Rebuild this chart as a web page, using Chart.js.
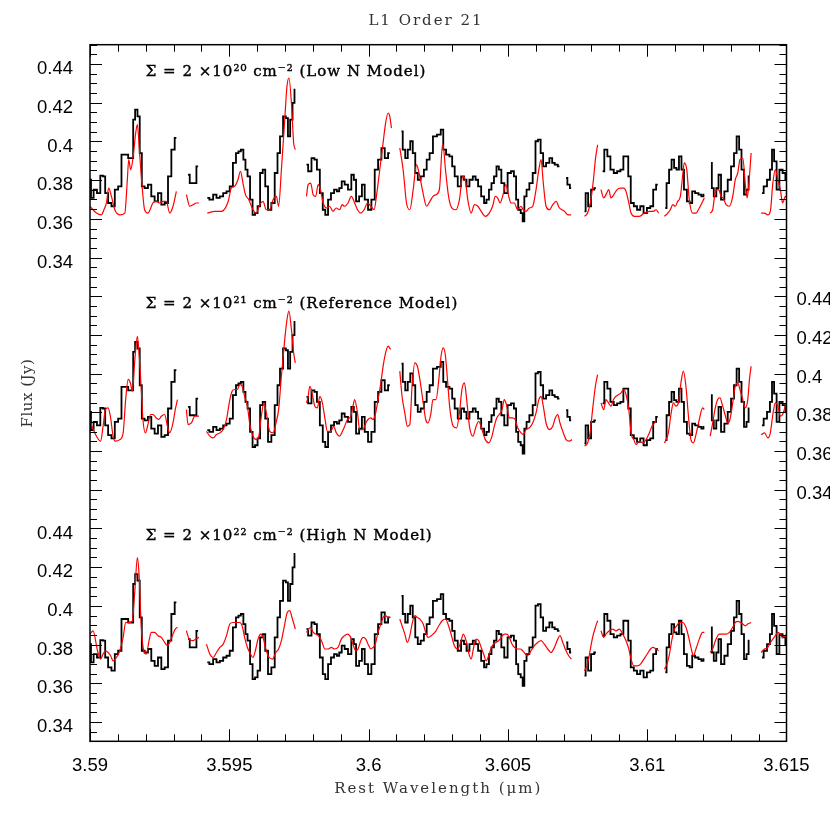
<!DOCTYPE html>
<html>
<head>
<meta charset="utf-8">
<script src="https://cdn.jsdelivr.net/npm/chart.js@4.4.0/dist/chart.umd.min.js"></script>
<style>
  html, body { margin: 0; padding: 0; background: #fff; }
  #spec { display: block; }
</style>
</head>
<body>
<canvas id="spec" width="830" height="830"></canvas>
<script>
// Observed spectrum (same in all three panels), null = gap between orders
const obsWave = [
  3.59000, 3.59007, 3.59019, 3.59031, 3.59043, 3.59050, 3.59059, 3.59071, 3.59083, 3.59095, 3.59107, 3.59119, 3.59131, 3.59143, 3.59152, 3.59158, 3.59166, 3.59175, 3.59182, 3.59190, 3.59202, 3.59214, 3.59226, 3.59238, 3.59250, 3.59262, 3.59274, 3.59286, 3.59298, 3.59310,
  3.5933,
  3.59352, 3.59364, 3.59376, 3.59388,
  3.5940,
  3.59421, 3.59436, 3.59448, 3.59460, 3.59472, 3.59484, 3.59496, 3.59507, 3.59519, 3.59529, 3.59537, 3.59546, 3.59555, 3.59561, 3.59570, 3.59579, 3.59588, 3.59597, 3.59606, 3.59615, 3.59625, 3.59633, 3.59645, 3.59657, 3.59669, 3.59677, 3.59687, 3.59699, 3.59707, 3.59714, 3.59723, 3.59731, 3.59737,
  3.5976,
  3.59777, 3.59789, 3.59801, 3.59810, 3.59819, 3.59831, 3.59840, 3.59849, 3.59860, 3.59870, 3.59882, 3.59890, 3.59899, 3.59908, 3.59920, 3.59932, 3.59944, 3.59950, 3.59960, 3.59972, 3.59980, 3.59992, 3.60004, 3.60016, 3.60028, 3.60040, 3.60052, 3.60064, 3.60076,
  3.6010,
  3.60118, 3.60127, 3.60136, 3.60145, 3.60154, 3.60163, 3.60172, 3.60181, 3.60193, 3.60204, 3.60213, 3.60225, 3.60237, 3.60254, 3.60264, 3.60272, 3.60284, 3.60296, 3.60304, 3.60314, 3.60326, 3.60338, 3.60347, 3.60356, 3.60368, 3.60380, 3.60388, 3.60398, 3.60410, 3.60419, 3.60427, 3.60437, 3.60445, 3.60455, 3.60463, 3.60472, 3.60481, 3.60493, 3.60505, 3.60517, 3.60526, 3.60533, 3.60541, 3.60551, 3.60555, 3.60563, 3.60571, 3.60583, 3.60595, 3.60603, 3.60613, 3.60622, 3.60631, 3.60643, 3.60655, 3.60663, 3.60673, 3.60685,
  3.6070,
  3.60709, 3.60718, 3.60727,
  3.6075,
  3.60775, 3.60783, 3.60793, 3.60804, 3.60816,
  3.6083,
  3.60840, 3.60852, 3.60862, 3.60874, 3.60886, 3.60898, 3.60910, 3.60919, 3.60928, 3.60936, 3.60946, 3.60958, 3.60969, 3.60981, 3.60993, 3.61005, 3.61017, 3.61026, 3.61038,
  3.6105,
  3.61065, 3.61074, 3.61083, 3.61092, 3.61101, 3.61109, 3.61119, 3.61127, 3.61137, 3.61148, 3.61157, 3.61166, 3.61178, 3.61190, 3.61199, 3.61205,
  3.6122,
  3.61229, 3.61235, 3.61243, 3.61253, 3.61259, 3.61271, 3.61283, 3.61295, 3.61307, 3.61316, 3.61326, 3.61334, 3.61343, 3.61352, 3.61361, 3.61367,
  3.6139,
  3.61412, 3.61424, 3.61436, 3.61445, 3.61451, 3.61460, 3.61469, 3.61480, 3.61492, 3.61500
];
const obsFlux = [
  .3802, .3708, .3751, .3733, .3823, .3820, .3733, .3682, .3665, .3751, .3768, .3932, .3932, .3914, .3914, .4113, .4164, .4130, .3940, .3768, .3759, .3777, .3716, .3690, .3733, .3673, .3682, .3820, .3958, .4018,
  null,
  .3828, .3785, .3785, .3871,
  null,
  .3708, .3699, .3725, .3708, .3716, .3733, .3742, .3768, .3889, .3940, .3949, .3958, .3906, .3854, .3820, .3699, .3621, .3630, .3665, .3837, .3854, .3768, .3647, .3682, .3837, .3940, .4026, .4130, .4121, .4026, .4113, .4199, .4268,
  null,
  .3880, .3846, .3914, .3906, .3854, .3733, .3647, .3621, .3699, .3733, .3751, .3742, .3759, .3794, .3777, .3751, .3828, .3802, .3690, .3716, .3777, .3699, .3647, .3699, .3854, .3906, .3966, .3914, .3940,
  null,
  .4052, .3958, .3914, .3958, .4001, .3940, .3837, .3802, .3820, .3854, .3906, .3940, .4026, .4035, .4061, .3958, .3932, .3923, .3871, .3820, .3768, .3820, .3802, .3768, .3802, .3820, .3802, .3768, .3716, .3682, .3699, .3751, .3785, .3820, .3871, .3854, .3785, .3733, .3837, .3846, .3820, .3699, .3647, .3630, .3587, .3716, .3751, .3785, .3837, .4001, .4009, .3940, .3871, .3889, .3914, .3889, .3880, .3871,
  null,
  .3811, .3777, .3759,
  null,
  .3639, .3733, .3665, .3751, .3759,
  null,
  .3846, .3958, .3923, .3854, .3837, .3846, .3854, .3923, .3923, .3820, .3682, .3665, .3647, .3665, .3630, .3656, .3665, .3751, .3777,
  null,
  .3656, .3785, .3854, .3906, .3863, .3854, .3923, .3854, .3751, .3690, .3682, .3742, .3733, .3725, .3716, .3725,
  null,
  .3889, .3759, .3716, .3759, .3828, .3699, .3742, .3802, .3871, .3940, .4026, .3958, .3854, .3725, .3751, .3820,
  null,
  .3733, .3768, .3802, .3854, .3958, .3897, .3751, .3854, .3837, .3802
];

// Low N model (top panel)
const lowWave = [
  3.59000, 3.59005, 3.59023, 3.59041, 3.59050, 3.59059, 3.59067, 3.59077, 3.59089, 3.59107, 3.59125, 3.59134, 3.59139, 3.59146, 3.59155, 3.59164, 3.59170, 3.59178, 3.59187, 3.59196, 3.59208, 3.59226, 3.59238, 3.59250, 3.59262, 3.59274, 3.59286, 3.59298, 3.59310,
  3.5933,
  3.59346, 3.59358, 3.59370, 3.59382, 3.59391,
  3.5940,
  3.59421, 3.59448, 3.59472, 3.59496, 3.59507, 3.59519, 3.59531, 3.59540, 3.59549, 3.59558, 3.59570, 3.59585, 3.59597, 3.59609, 3.59621, 3.59633, 3.59645, 3.59657, 3.59669, 3.59677, 3.59687, 3.59699, 3.59707, 3.59714, 3.59723, 3.59731, 3.59737,
  3.5976,
  3.59777, 3.59783, 3.59792, 3.59801, 3.59810, 3.59819, 3.59827, 3.59837, 3.59849, 3.59860, 3.59872, 3.59884, 3.59896, 3.59905, 3.59914, 3.59926, 3.59938, 3.59950, 3.59960, 3.59972, 3.59984, 3.59996, 3.60008, 3.60020, 3.60028, 3.60040, 3.60052, 3.60061, 3.60070, 3.60076, 3.60082,
  3.6010,
  3.60112, 3.60124, 3.60136, 3.60148, 3.60160, 3.60172, 3.60181, 3.60193, 3.60208, 3.60220, 3.60231, 3.60242, 3.60254, 3.60266, 3.60276, 3.60287, 3.60299, 3.60314, 3.60326, 3.60338, 3.60347, 3.60356, 3.60368, 3.60380, 3.60392, 3.60404, 3.60419, 3.60433, 3.60445, 3.60455, 3.60463, 3.60472, 3.60481, 3.60493, 3.60503, 3.60511, 3.60523, 3.60535, 3.60547, 3.60555, 3.60565, 3.60577, 3.60589, 3.60601, 3.60611, 3.60619, 3.60627, 3.60637, 3.60649, 3.60661, 3.60673, 3.60685, 3.60694, 3.60703, 3.60715, 3.60727,
  3.6075,
  3.60775, 3.60786, 3.60798, 3.60807, 3.60814, 3.60822,
  3.6083,
  3.60834, 3.60844, 3.60852, 3.60862, 3.60870, 3.60880, 3.60892, 3.60904, 3.60916, 3.60924, 3.60934, 3.60942, 3.60954, 3.60972, 3.60990, 3.61008, 3.61022, 3.61032, 3.61041,
  3.6105,
  3.61062, 3.61074, 3.61083, 3.61092, 3.61101, 3.61109, 3.61119, 3.61127, 3.61133, 3.61142, 3.61151, 3.61163, 3.61175, 3.61187, 3.61199, 3.61205,
  3.6121,
  3.61226, 3.61235, 3.61245, 3.61257, 3.61265, 3.61273, 3.61283, 3.61295, 3.61307, 3.61316, 3.61325, 3.61333, 3.61343, 3.61353, 3.61359, 3.61367, 3.61373,
  3.6139,
  3.61409, 3.61421, 3.61433, 3.61442, 3.61451, 3.61460, 3.61469, 3.61478, 3.61486, 3.61496, 3.61500
];
const lowFlux = [
  .3665, .3656, .3630, .3621, .3647, .3682, .3759, .3716, .3647, .3621, .3630, .3802, .3906, .3854, .3923, .4044, .4087, .3940, .3768, .3647, .3630, .3682, .3690, .3682, .3690, .3690, .3630, .3665, .3742,
  null,
  .3725, .3665, .3673, .3682, .3682,
  null,
  .3630, .3639, .3639, .3690, .3759, .3768, .3802, .3846, .3785, .3725, .3699, .3647, .3630, .3673, .3690, .3647, .3647, .3699, .3716, .3665, .3854, .4113, .4285, .4328, .4199, .3992, .3958,
  null,
  .3716, .3777, .3785, .3725, .3716, .3777, .3751, .3682, .3656, .3665, .3639, .3656, .3647, .3673, .3665, .3682, .3716, .3682, .3647, .3630, .3647, .3682, .3665, .3647, .3716, .3854, .3992, .4095, .4147, .4130, .4069,
  null,
  .3966, .3854, .3682, .3647, .3751, .3880, .3837, .3751, .3665, .3690, .3716, .3725, .3751, .3992, .3854, .3716, .3656, .3647, .3699, .3820, .3802, .3699, .3630, .3673, .3665, .3639, .3613, .3630, .3665, .3716, .3708, .3682, .3716, .3777, .3716, .3682, .3682, .3647, .3665, .3647, .3639, .3656, .3665, .3751, .3854, .3906, .3785, .3665, .3647, .3673, .3690, .3656, .3647, .3639, .3621, .3621,
  null,
  .3613, .3630, .3699, .3802, .3906, .3983,
  null,
  .3751, .3708, .3725, .3751, .3708, .3725, .3751, .3759, .3759, .3742, .3682, .3630, .3613, .3613, .3630, .3639, .3639, .3647, .3630,
  null,
  .3613, .3630, .3647, .3673, .3665, .3690, .3716, .3820, .3889, .3854, .3699, .3630, .3630, .3656, .3690, .3708,
  null,
  .3630, .3647, .3742, .3751, .3716, .3708, .3673, .3665, .3716, .3802, .3837, .3906, .3914, .3768, .3708, .3820, .3940,
  null,
  .3630, .3630, .3621, .3639, .3785, .3854, .3802, .3751, .3682, .3716, .3708
];

// Reference model (middle panel)
const refWave = [
  3.59000, 3.59017, 3.59038, 3.59047, 3.59055, 3.59065, 3.59073, 3.59083, 3.59091, 3.59107, 3.59119, 3.59128, 3.59137, 3.59145, 3.59152, 3.59161, 3.59170, 3.59176, 3.59184, 3.59190, 3.59199, 3.59208, 3.59218, 3.59226, 3.59238, 3.59247, 3.59256, 3.59268, 3.59278, 3.59286, 3.59298, 3.59306, 3.59314,
  3.5933,
  3.59346, 3.59352, 3.59364, 3.59376, 3.59391,
  3.5940,
  3.59418, 3.59430, 3.59442, 3.59454, 3.59466, 3.59478, 3.59490, 3.59502, 3.59510, 3.59519, 3.59529, 3.59537, 3.59546, 3.59555, 3.59565, 3.59573, 3.59585, 3.59597, 3.59606, 3.59615, 3.59624, 3.59633, 3.59645, 3.59657, 3.59669, 3.59677, 3.59687, 3.59699, 3.59707, 3.59714, 3.59723, 3.59731, 3.59737,
  3.5976,
  3.59777, 3.59783, 3.59789, 3.59797, 3.59807, 3.59816, 3.59825, 3.59834, 3.59843, 3.59852, 3.59864, 3.59875, 3.59884, 3.59896, 3.59906, 3.59914, 3.59924, 3.59936, 3.59944, 3.59950, 3.59960, 3.59968, 3.59980, 3.59990, 3.59998, 3.60008, 3.60016, 3.60024, 3.60034, 3.60044, 3.60052, 3.60061, 3.60070, 3.60079,
  3.6010,
  3.60112, 3.60120, 3.60130, 3.60139, 3.60148, 3.60156, 3.60166, 3.60175, 3.60184, 3.60196, 3.60205, 3.60213, 3.60223, 3.60231, 3.60242, 3.60252, 3.60260, 3.60268, 3.60276, 3.60284, 3.60292, 3.60304, 3.60316, 3.60326, 3.60335, 3.60344, 3.60352, 3.60362, 3.60374, 3.60386, 3.60395, 3.60407, 3.60419, 3.60431, 3.60443, 3.60451, 3.60460, 3.60469, 3.60479, 3.60487, 3.60496, 3.60505, 3.60515, 3.60526, 3.60535, 3.60547, 3.60555, 3.60565, 3.60577, 3.60589, 3.60601, 3.60611, 3.60619, 3.60627, 3.60637, 3.60649, 3.60661, 3.60670, 3.60679, 3.60687, 3.60697, 3.60709, 3.60721, 3.60730,
  3.6075,
  3.60775, 3.60786, 3.60795, 3.60804, 3.60814, 3.60822,
  3.6083,
  3.60834, 3.60844, 3.60852, 3.60861, 3.60870, 3.60879, 3.60888, 3.60898, 3.60906, 3.60916, 3.60924, 3.60934, 3.60942, 3.60952, 3.60960, 3.60972, 3.60984, 3.60996, 3.61008, 3.61017, 3.61026, 3.61032,
  3.6105,
  3.61062, 3.61068, 3.61076, 3.61086, 3.61094, 3.61103, 3.61112, 3.61121, 3.61130, 3.61139, 3.61148, 3.61157, 3.61166, 3.61175, 3.61187, 3.61199, 3.61205,
  3.6121,
  3.61226, 3.61235, 3.61243, 3.61253, 3.61261, 3.61271, 3.61281, 3.61289, 3.61297, 3.61307, 3.61316, 3.61325, 3.61333, 3.61343, 3.61352, 3.61361, 3.61367, 3.61373,
  3.6139,
  3.61409, 3.61421, 3.61433, 3.61442, 3.61451, 3.61460, 3.61469, 3.61478, 3.61486, 3.61496, 3.61500
];
const refFlux = [
  .3754, .3694, .3651, .3728, .3814, .3823, .3780, .3677, .3651, .3659, .3694, .3866, .3970, .3952, .3909, .4073, .4193, .4107, .3918, .3763, .3694, .3737, .3789, .3789, .3771, .3763, .3780, .3789, .3728, .3694, .3745, .3814, .3866,
  null,
  .3814, .3737, .3745, .3780, .3780,
  null,
  .3702, .3677, .3668, .3685, .3694, .3711, .3763, .3866, .3909, .3918, .3918, .3944, .3935, .3883, .3832, .3745, .3677, .3659, .3677, .3780, .3849, .3797, .3702, .3694, .3754, .3814, .3987, .4176, .4280, .4323, .4228, .4107, .4056,
  null,
  .3849, .3883, .3935, .3901, .3832, .3823, .3883, .3849, .3771, .3702, .3702, .3728, .3694, .3677, .3702, .3728, .3763, .3780, .3832, .3866, .3797, .3711, .3711, .3745, .3763, .3771, .3763, .3789, .3866, .3952, .4038, .4107, .4142, .4125,
  null,
  .4013, .3883, .3797, .3728, .3737, .3935, .4056, .4038, .3970, .3849, .3763, .3745, .3789, .3866, .3866, .3970, .4090, .4133, .4090, .3952, .3814, .3728, .3720, .3797, .3918, .3952, .3866, .3728, .3677, .3728, .3754, .3711, .3659, .3642, .3677, .3728, .3771, .3789, .3814, .3866, .3832, .3771, .3771, .3763, .3720, .3694, .3685, .3711, .3720, .3745, .3797, .3866, .3883, .3832, .3745, .3711, .3728, .3771, .3789, .3745, .3702, .3659, .3651, .3659,
  null,
  .3625, .3642, .3694, .3814, .3935, .3995,
  null,
  .3849, .3814, .3866, .3849, .3832, .3866, .3883, .3892, .3901, .3918, .3892, .3814, .3694, .3659, .3633, .3651, .3642, .3659, .3694, .3728, .3745, .3763,
  null,
  .3642, .3659, .3694, .3797, .3849, .3832, .3849, .3952, .4013, .3935, .3780, .3659, .3642, .3685, .3763, .3823, .3814,
  null,
  .3677, .3745, .3814, .3866, .3875, .3832, .3780, .3745, .3763, .3849, .3935, .3952, .3918, .3866, .3823, .3866, .3970, .4038,
  null,
  .3685, .3694, .3668, .3694, .3789, .3849, .3832, .3780, .3789, .3832, .3849
];

// High N model (bottom panel)
const highWave = [
  3.59000, 3.59011, 3.59027, 3.59038, 3.59047, 3.59055, 3.59065, 3.59074, 3.59083, 3.59095, 3.59107, 3.59119, 3.59128, 3.59137, 3.59145, 3.59152, 3.59161, 3.59170, 3.59176, 3.59184, 3.59193, 3.59202, 3.59212, 3.59220, 3.59232, 3.59244, 3.59256, 3.59268, 3.59278, 3.59286, 3.59298, 3.59306, 3.59314,
  3.5933,
  3.59346, 3.59356, 3.59368, 3.59380, 3.59391,
  3.5940,
  3.59418, 3.59430, 3.59442, 3.59454, 3.59466, 3.59478, 3.59490, 3.59502, 3.59513, 3.59525, 3.59537, 3.59546, 3.59555, 3.59565, 3.59576, 3.59585, 3.59595, 3.59603, 3.59613, 3.59621, 3.59631, 3.59643, 3.59655, 3.59667, 3.59677, 3.59687, 3.59699, 3.59708, 3.59717, 3.59725, 3.59737,
  3.5976,
  3.59777, 3.59785, 3.59792, 3.59801, 3.59810, 3.59819, 3.59831, 3.59843, 3.59855, 3.59866, 3.59878, 3.59890, 3.59902, 3.59914, 3.59924, 3.59936, 3.59944, 3.59954, 3.59962, 3.59972, 3.59980, 3.59990, 3.59998, 3.60008, 3.60016, 3.60024, 3.60034, 3.60044, 3.60052, 3.60061, 3.60070, 3.60079,
  3.6010,
  3.60112, 3.60120, 3.60130, 3.60139, 3.60148, 3.60156, 3.60166, 3.60175, 3.60184, 3.60196, 3.60205, 3.60213, 3.60225, 3.60242, 3.60252, 3.60264, 3.60276, 3.60287, 3.60296, 3.60308, 3.60320, 3.60332, 3.60340, 3.60350, 3.60359, 3.60368, 3.60377, 3.60386, 3.60395, 3.60404, 3.60413, 3.60422, 3.60431, 3.60439, 3.60448, 3.60457, 3.60467, 3.60476, 3.60487, 3.60497, 3.60505, 3.60515, 3.60524, 3.60535, 3.60545, 3.60553, 3.60563, 3.60571, 3.60583, 3.60595, 3.60607, 3.60619, 3.60631, 3.60643, 3.60655, 3.60667, 3.60679, 3.60687, 3.60697, 3.60706, 3.60718, 3.60728,
  3.6075,
  3.60775, 3.60786, 3.60795, 3.60804, 3.60814, 3.60822,
  3.6083,
  3.60834, 3.60844, 3.60852, 3.60864, 3.60876, 3.60888, 3.60900, 3.60912, 3.60924, 3.60934, 3.60942, 3.60952, 3.60964, 3.60976, 3.60988, 3.61000, 3.61012, 3.61020, 3.61032, 3.61041,
  3.6105,
  3.61062, 3.61071, 3.61080, 3.61088, 3.61098, 3.61106, 3.61115, 3.61127, 3.61139, 3.61149, 3.61157, 3.61166, 3.61175, 3.61187, 3.61199, 3.61205,
  3.6121,
  3.61226, 3.61235, 3.61247, 3.61259, 3.61271, 3.61283, 3.61295, 3.61307, 3.61316, 3.61326, 3.61334, 3.61343, 3.61352, 3.61361, 3.61373,
  3.6139,
  3.61409, 3.61421, 3.61433, 3.61442, 3.61451, 3.61460, 3.61469, 3.61478, 3.61486, 3.61496, 3.61500
];
const highFlux = [
  .3854, .3871, .3768, .3725, .3751, .3768, .3759, .3742, .3716, .3733, .3768, .3837, .3914, .3914, .3914, .3923, .4078, .4250, .4164, .3889, .3768, .3751, .3820, .3863, .3863, .3846, .3837, .3811, .3794, .3811, .3854, .3880, .3889,
  null,
  .3871, .3828, .3820, .3828, .3837,
  null,
  .3802, .3751, .3733, .3759, .3785, .3802, .3846, .3906, .3914, .3914, .3914, .3897, .3837, .3785, .3751, .3733, .3777, .3828, .3854, .3837, .3777, .3733, .3725, .3759, .3777, .3820, .3906, .3966, .3975, .3940, .3880,
  null,
  .3863, .3880, .3889, .3863, .3854, .3846, .3820, .3777, .3777, .3785, .3777, .3785, .3828, .3846, .3854, .3837, .3802, .3768, .3777, .3820, .3837, .3828, .3802, .3777, .3785, .3802, .3863, .3906, .3940, .3949, .3940, .3940,
  null,
  .3932, .3897, .3854, .3811, .3846, .3906, .3949, .3940, .3932, .3906, .3863, .3837, .3846, .3871, .3897, .3923, .3932, .3897, .3854, .3794, .3777, .3820, .3854, .3820, .3759, .3725, .3785, .3828, .3820, .3785, .3751, .3716, .3742, .3777, .3802, .3811, .3820, .3837, .3854, .3854, .3837, .3802, .3785, .3777, .3777, .3768, .3751, .3742, .3768, .3794, .3811, .3820, .3802, .3777, .3759, .3785, .3828, .3846, .3811, .3777, .3742, .3725,
  null,
  .3665, .3699, .3768, .3837, .3889, .3923,
  null,
  .3871, .3837, .3854, .3871, .3880, .3871, .3880, .3854, .3820, .3777, .3725, .3690, .3690, .3699, .3725, .3751, .3777, .3785, .3777, .3768,
  null,
  .3673, .3699, .3751, .3820, .3880, .3897, .3914, .3914, .3889, .3837, .3785, .3742, .3777, .3828, .3863, .3863,
  null,
  .3759, .3777, .3828, .3854, .3854, .3854, .3863, .3889, .3914, .3920, .3914, .3906, .3897, .3906, .3914,
  null,
  .3759, .3777, .3785, .3811, .3828, .3846, .3863, .3854, .3837, .3846, .3854
];

// tick labels
const xTicks = [3.59, 3.595, 3.6, 3.605, 3.61, 3.615];
const fluxTicks = [0.34, 0.36, 0.38, 0.4, 0.42, 0.44];
const panelLabels = [
  'Σ = 2 ×10²⁰ cm⁻² (Low N Model)',
  'Σ = 2 ×10²¹ cm⁻² (Reference Model)',
  'Σ = 2 ×10²² cm⁻² (High N Model)'
];

// each panel is shifted up by a fixed amount on one shared flux axis
const panelShift = [0.24, 0.12, 0];
const sans = "'Liberation Sans', Arial, Helvetica, sans-serif";
const serif = "'DejaVu Serif', 'Liberation Serif', serif";

function toPoints(waves, flux, shift) {
  return waves.map((w, i) => ({ x: w, y: flux[i] === null ? null : flux[i] + shift }));
}
function fmt(v, digits) {
  return String(+v.toFixed(digits));
}

const models = [lowFlux, refFlux, highFlux];
const modelWaves = [lowWave, refWave, highWave];

const datasets = [];
models.forEach((flux, p) => {
  datasets.push({
    label: 'model ' + p,
    data: toPoints(modelWaves[p], flux, panelShift[p]),
    borderColor: '#ff0000',
    borderWidth: 1.2,
    cubicInterpolationMode: 'monotone',
    pointRadius: 0,
    order: 0
  });
});
panelShift.forEach((shift, p) => {
  datasets.push({
    label: 'observed ' + p,
    data: toPoints(obsWave, obsFlux, shift),
    borderColor: '#000000',
    borderWidth: 1.8,
    stepped: 'middle',
    pointRadius: 0,
    order: 1
  });
});

// frame, inward ticks and text labels in the PGPLOT style
const framePlugin = {
  id: 'frame',
  afterDatasetsDraw(chart) {
    const { ctx, chartArea: a, scales } = chart;
    const x = scales.x, y = scales.y;
    ctx.save();
    ctx.strokeStyle = '#000';
    ctx.lineWidth = 1;
    ctx.beginPath();
    for (let i = 0; i <= 25; i++) {
      const px = Math.round(x.getPixelForValue(3.59 + i * 0.001)) + 0.5;
      const len = i % 5 === 0 ? 12 : 7;
      ctx.moveTo(px, a.bottom); ctx.lineTo(px, a.bottom - len);
      ctx.moveTo(px, a.top); ctx.lineTo(px, a.top + len);
    }
    for (let i = 0; i <= 72; i++) {
      const py = Math.round(y.getPixelForValue(0.33 + i * 0.005)) + 0.5;
      const len = (i - 2) % 4 === 0 ? 12 : 7;
      ctx.moveTo(a.left, py); ctx.lineTo(a.left + len, py);
      ctx.moveTo(a.right, py); ctx.lineTo(a.right - len, py);
    }
    ctx.stroke();
    ctx.lineWidth = 1.5;
    ctx.strokeRect(a.left, a.top, a.right - a.left, a.bottom - a.top);

    // panel captions, slightly heavier like the plotter font
    ctx.fillStyle = '#000';
    ctx.strokeStyle = '#000';
    ctx.lineWidth = 0.4;
    ctx.font = '15px ' + serif;
    ctx.letterSpacing = '1px';
    ctx.textAlign = 'left';
    ctx.textBaseline = 'middle';
    panelLabels.forEach((t, p) => {
      const tx = x.getPixelForValue(3.592), ty = y.getPixelForValue(0.436 + panelShift[p]);
      ctx.fillText(t, tx, ty);
      ctx.strokeText(t, tx, ty);
    });

    // title and axis titles
    ctx.fillStyle = '#333';
    ctx.letterSpacing = '2px';
    ctx.textAlign = 'center';
    ctx.fillText('L1 Order 21', 426, 21);
    ctx.fillText('Rest Wavelength (μm)', (a.left + a.right) / 2, 789);
    ctx.letterSpacing = '0.5px';
    ctx.translate(28, (a.top + a.bottom) / 2);
    ctx.rotate(-Math.PI / 2);
    ctx.fillText('Flux (Jy)', 0, 0);
    ctx.restore();
  }
};

const tickFont = { family: sans, size: 18.5 };

new Chart(document.getElementById('spec'), {
  type: 'line',
  data: { datasets },
  options: {
    responsive: false,
    animation: false,
    devicePixelRatio: 1,
    layout: { padding: { top: 44.7, left: 0, right: 0, bottom: 0 } },
    plugins: { legend: { display: false }, tooltip: { enabled: false } },
    scales: {
      x: {
        type: 'linear', position: 'bottom', min: 3.59, max: 3.615,
        grid: { display: false, drawTicks: false }, border: { display: false },
        afterBuildTicks: s => { s.ticks = xTicks.map(v => ({ value: v })); },
        afterFit: s => { s.height = 88.7; },
        ticks: { autoSkip: false, maxRotation: 0, padding: 14, color: '#000', font: tickFont,
                 callback: v => fmt(v, 3) }
      },
      y: {
        type: 'linear', position: 'left', min: 0.33, max: 0.69,
        grid: { display: false, drawTicks: false }, border: { display: false },
        afterBuildTicks: s => {
          s.ticks = fluxTicks.map(v => ({ value: v + panelShift[0] }))
            .concat(fluxTicks.map(v => ({ value: v + panelShift[2] })));
        },
        afterFit: s => { s.width = 90; },
        ticks: { autoSkip: false, padding: 17, labelOffset: 5, color: '#000', font: tickFont,
                 callback: v => fmt(v > 0.5 ? v - panelShift[0] : v - panelShift[2], 2) }
      },
      y2: {
        type: 'linear', position: 'right', min: 0.33, max: 0.69,
        grid: { display: false, drawTicks: false }, border: { display: false },
        afterBuildTicks: s => { s.ticks = fluxTicks.map(v => ({ value: v + panelShift[1] })); },
        afterFit: s => { s.width = 43.5; },
        ticks: { autoSkip: false, padding: 10, labelOffset: 4, color: '#000', font: tickFont,
                 callback: v => fmt(v - panelShift[1], 2) }
      }
    }
  },
  plugins: [framePlugin]
});
</script>
</body>
</html>
